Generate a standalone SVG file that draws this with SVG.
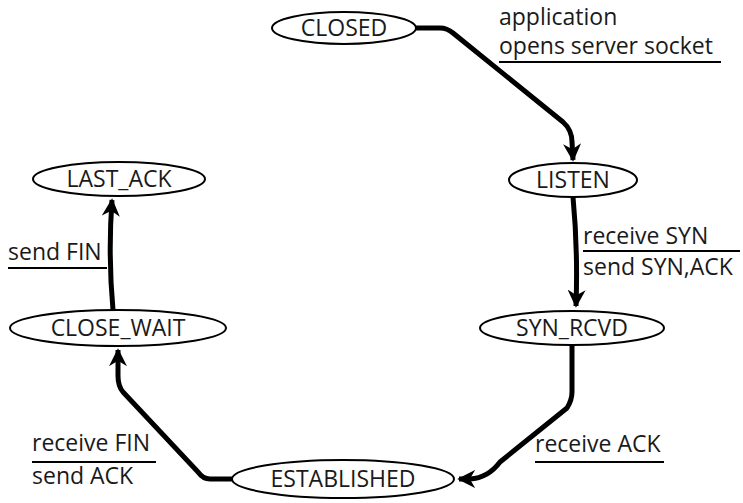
<svg xmlns="http://www.w3.org/2000/svg" width="743" height="503" viewBox="0 0 743 503">
<defs>
<style>
.n ellipse{fill:#fff;stroke:#000;stroke-width:2}
text{font-family:"Open Sans","Noto Sans",sans-serif;font-size:23px;fill:#1a1a1a}
.n text{text-anchor:middle}
.e{fill:none;stroke:#000;stroke-width:5;stroke-linejoin:round;stroke-linecap:butt}
.u{stroke:#000;stroke-width:2}
</style>
<marker id="ah" viewBox="0 0 10 10" refX="9" refY="5" markerWidth="3.6" markerHeight="3.6" orient="auto" markerUnits="strokeWidth">
<path d="M0,0 L10,5 L0,10 L3,5 Z" fill="#000"/>
</marker>
</defs>
<g id="connectors">
<path class="e" marker-end="url(#ah)" d="M416,28 L440,28 Q447,28 453,33 L563,122 Q572,130 572,142 L573,160"/>
<path class="e" marker-end="url(#ah)" d="M573,197 Q578,250 576,306"/>
<path class="e" marker-end="url(#ah)" d="M572,346 L572,392 Q572,400 567,408 L500,462 Q488,478 470,479 L459,479"/>
<path class="e" marker-end="url(#ah)" d="M232,479 L210,479 Q203,479 198,472 L123,392 Q118,386 118,376 L118,350"/>
<path class="e" marker-end="url(#ah)" d="M113,310 Q108,255 112,200"/>
</g>
<g id="CLOSED" class="n"><ellipse cx="344" cy="28" rx="72" ry="16"/><text x="344" y="36">CLOSED</text></g>
<g id="LISTEN" class="n"><ellipse cx="573" cy="180" rx="64" ry="17"/><text x="573" y="188">LISTEN</text></g>
<g id="SYN_RCVD" class="n"><ellipse cx="572" cy="328" rx="92" ry="17"/><text x="572" y="336">SYN_RCVD</text></g>
<g id="ESTABLISHED" class="n"><ellipse cx="343" cy="479" rx="111" ry="19"/><text x="343" y="487">ESTABLISHED</text></g>
<g id="CLOSE_WAIT" class="n"><ellipse cx="118" cy="328" rx="108" ry="18"/><text x="118" y="336">CLOSE_WAIT</text></g>
<g id="LAST_ACK" class="n"><ellipse cx="119" cy="179" rx="86" ry="17"/><text x="119" y="187">LAST_ACK</text></g>
<g id="labels">
<text x="499" y="25">application</text>
<text x="499" y="54">opens server socket</text>
<line class="u" x1="499" y1="62" x2="721" y2="62"/>
<text x="583" y="244">receive SYN</text>
<line class="u" x1="583" y1="251" x2="740" y2="251"/>
<text x="583" y="275">send SYN,ACK</text>
<text x="535" y="452">receive ACK</text>
<line class="u" x1="535" y1="462" x2="664" y2="462"/>
<text x="32" y="451">receive FIN</text>
<line class="u" x1="32" y1="462" x2="156" y2="462"/>
<text x="32" y="484">send ACK</text>
<text x="8" y="260">send FIN</text>
<line class="u" x1="8" y1="268" x2="107" y2="268"/>
</g>
</svg>
